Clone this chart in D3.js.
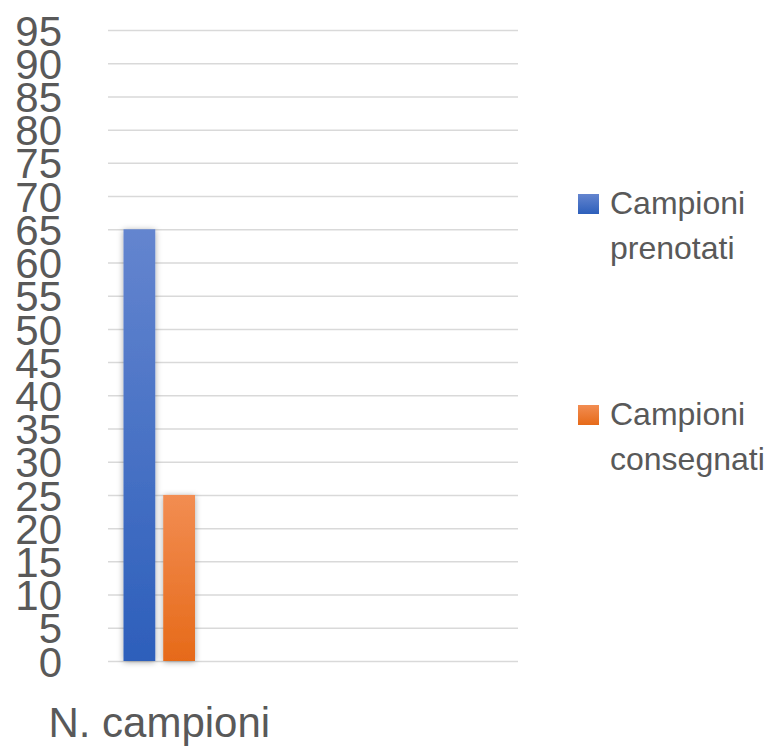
<!DOCTYPE html>
<html>
<head>
<meta charset="utf-8">
<script src="https://cdn.jsdelivr.net/npm/d3@7"></script>
<style>
body { margin: 0; background: #fff; }
</style>
</head>
<body>
<div id="chart-area"></div>
<script>
// data
var categories = ["N. campioni"];
var series = ["Campioni prenotati", "Campioni consegnati"];
var values = [[65, 25]];
var yTicks = [0, 5, 10, 15, 20, 25, 30, 35, 40, 45, 50, 55, 60, 65, 70, 75, 80, 85, 90, 95];

var colors = {
	"Campioni prenotati": ["#6485cf", "#2d5fbb"],
	"Campioni consegnati": ["#f28d52", "#e66a19"]
};

var margin = {top: 30, left: 108};
var width = 410;
var height = 631;
var textColor = "#595959";
var font = "'Liberation Sans', Arial, sans-serif";

var svg = d3.select("#chart-area")
	.append("svg")
	.attr("width", 776)
	.attr("height", 746);

var defs = svg.append("defs");

series.forEach(function(s, i) {
	var grad = defs.append("linearGradient")
		.attr("id", "grad" + i)
		.attr("x1", 0).attr("y1", 0)
		.attr("x2", 0).attr("y2", 1);
	grad.append("stop").attr("offset", "0%").attr("stop-color", colors[s][0]);
	grad.append("stop").attr("offset", "100%").attr("stop-color", colors[s][1]);
});

var shadow = defs.append("filter")
	.attr("id", "shadow")
	.attr("x", "-50%").attr("y", "-10%")
	.attr("width", "200%").attr("height", "120%");
shadow.append("feDropShadow")
	.attr("dx", 0).attr("dy", 1)
	.attr("stdDeviation", 3)
	.attr("flood-color", "#000")
	.attr("flood-opacity", 0.35);

var g = svg.append("g")
	.attr("transform", "translate(" + margin.left + ", " + margin.top + ")");

var y = d3.scaleLinear().domain([0, 95]).range([height, 0]);

// the category occupies the first quarter of the plot width
var x0 = d3.scaleBand().domain(categories).range([0, width / 4]);
var x1 = d3.scaleBand().domain(series).range([15.5, 87]).paddingInner(0.2);

var yAxisCall = d3.axisLeft(y)
	.tickValues(yTicks)
	.tickSize(-width)
	.tickPadding(46);

var yAxisGroup = g.append("g").attr("class", "y-axis").call(yAxisCall);
yAxisGroup.select(".domain").remove();
yAxisGroup.selectAll("line")
	.attr("stroke", "#d9d9d9")
	.attr("stroke-width", 1.5);
yAxisGroup.selectAll("text")
	.attr("font-family", font)
	.attr("font-size", "42px")
	.attr("fill", textColor)
	.attr("dy", "0.36em");

var groups = g.selectAll(".cat")
	.data(categories)
	.enter().append("g")
	.attr("class", "cat")
	.attr("transform", function(d) { return "translate(" + x0(d) + ",0)"; });

groups.selectAll("rect")
	.data(function(d, ci) {
		return series.map(function(s, si) { return {series: s, index: si, value: values[ci][si]}; });
	})
	.enter().append("rect")
	.attr("x", function(d) { return x1(d.series); })
	.attr("y", function(d) { return y(d.value); })
	.attr("width", x1.bandwidth())
	.attr("height", function(d) { return height - y(d.value); })
	.attr("fill", function(d) { return "url(#grad" + d.index + ")"; })
	.attr("filter", "url(#shadow)");

// category label
groups.append("text")
	.attr("x", x0.bandwidth() / 2)
	.attr("y", height + 76)
	.attr("text-anchor", "middle")
	.attr("font-family", font)
	.attr("font-size", "42px")
	.attr("fill", textColor)
	.text(function(d) { return d; });

// legend
var legendWords = [["Campioni", "prenotati"], ["Campioni", "consegnati"]];
series.forEach(function(s, i) {
	var row = svg.append("g")
		.attr("transform", "translate(578, " + (194 + i * 211) + ")");
	row.append("rect")
		.attr("width", 21)
		.attr("height", 20)
		.attr("fill", "url(#grad" + i + ")");
	var t = row.append("text")
		.attr("x", 32)
		.attr("y", 20)
		.attr("font-family", font)
		.attr("font-size", "32px")
		.attr("fill", textColor);
	legendWords[i].forEach(function(w, k) {
		t.append("tspan")
			.attr("x", 32)
			.attr("dy", k === 0 ? 0 : 45)
			.text(w);
	});
});
</script>
</body>
</html>
